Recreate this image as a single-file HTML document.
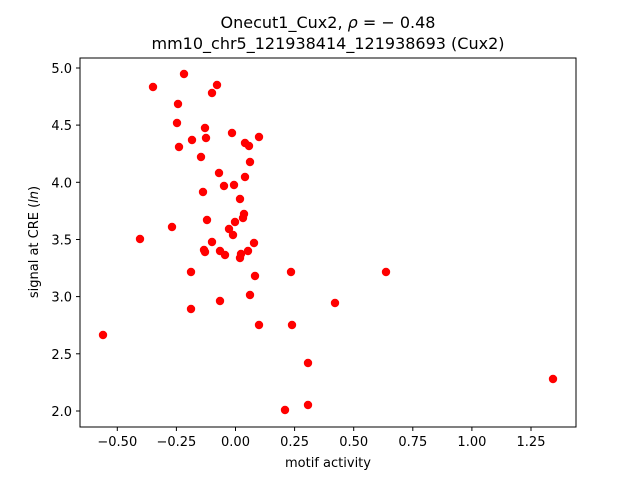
<!DOCTYPE html>
<html><head><meta charset="utf-8"><style>body{margin:0;background:#fff}</style></head><body>
<svg width="640" height="480" xmlns="http://www.w3.org/2000/svg" font-family="DejaVu Sans, Liberation Sans, sans-serif">
<rect width="640" height="480" fill="#fff"/>
<text x="328" y="28" font-size="16" text-anchor="middle">Onecut1_Cux2, <tspan font-style="italic">ρ</tspan> = − 0.48</text>
<text x="328" y="49" font-size="16" text-anchor="middle">mm10_chr5_121938414_121938693 (Cux2)</text>
<g fill="#ff0000">
<circle cx="103" cy="335" r="4.2"/><circle cx="140" cy="239" r="4.2"/><circle cx="153" cy="87" r="4.2"/><circle cx="184" cy="74" r="4.2"/>
<circle cx="172" cy="227" r="4.2"/><circle cx="177" cy="123" r="4.2"/><circle cx="178" cy="104" r="4.2"/><circle cx="179" cy="147" r="4.2"/>
<circle cx="191" cy="272" r="4.2"/><circle cx="191" cy="309" r="4.2"/><circle cx="192" cy="140" r="4.2"/><circle cx="201" cy="157" r="4.2"/>
<circle cx="203" cy="192" r="4.2"/><circle cx="204" cy="250" r="4.2"/><circle cx="205" cy="252" r="4.2"/><circle cx="205" cy="128" r="4.2"/>
<circle cx="206" cy="138" r="4.2"/><circle cx="207" cy="220" r="4.2"/><circle cx="212" cy="242" r="4.2"/><circle cx="212" cy="93" r="4.2"/>
<circle cx="217" cy="85" r="4.2"/><circle cx="219" cy="173" r="4.2"/><circle cx="220" cy="301" r="4.2"/><circle cx="220" cy="251" r="4.2"/>
<circle cx="224" cy="186" r="4.2"/><circle cx="225" cy="255" r="4.2"/><circle cx="229" cy="229" r="4.2"/><circle cx="232" cy="133" r="4.2"/>
<circle cx="233" cy="235" r="4.2"/><circle cx="234" cy="185" r="4.2"/><circle cx="235" cy="222" r="4.2"/><circle cx="240" cy="199" r="4.2"/>
<circle cx="240" cy="258" r="4.2"/><circle cx="241" cy="254" r="4.2"/><circle cx="243" cy="218" r="4.2"/><circle cx="244" cy="214" r="4.2"/>
<circle cx="245" cy="177" r="4.2"/><circle cx="245" cy="143" r="4.2"/><circle cx="248" cy="251" r="4.2"/><circle cx="249" cy="146" r="4.2"/>
<circle cx="250" cy="295" r="4.2"/><circle cx="250" cy="162" r="4.2"/><circle cx="254" cy="243" r="4.2"/><circle cx="255" cy="276" r="4.2"/>
<circle cx="259" cy="137" r="4.2"/><circle cx="259" cy="325" r="4.2"/><circle cx="291" cy="272" r="4.2"/><circle cx="292" cy="325" r="4.2"/>
<circle cx="285" cy="410" r="4.2"/><circle cx="308" cy="363" r="4.2"/><circle cx="308" cy="405" r="4.2"/><circle cx="335" cy="303" r="4.2"/>
<circle cx="386" cy="272" r="4.2"/><circle cx="553" cy="379" r="4.2"/>
</g>
<rect x="80" y="58" width="496" height="369" fill="none" stroke="#000" stroke-width="1"/>
<g stroke="#000" stroke-width="1">
<line x1="117.3" y1="427" x2="117.3" y2="431"/><line x1="176.4" y1="427" x2="176.4" y2="431"/><line x1="235.5" y1="427" x2="235.5" y2="431"/><line x1="294.6" y1="427" x2="294.6" y2="431"/>
<line x1="353.7" y1="427" x2="353.7" y2="431"/><line x1="412.8" y1="427" x2="412.8" y2="431"/><line x1="471.9" y1="427" x2="471.9" y2="431"/><line x1="531" y1="427" x2="531" y2="431"/>
<line x1="76" y1="411" x2="80" y2="411"/><line x1="76" y1="353.8" x2="80" y2="353.8"/><line x1="76" y1="296.6" x2="80" y2="296.6"/><line x1="76" y1="239.5" x2="80" y2="239.5"/>
<line x1="76" y1="182.3" x2="80" y2="182.3"/><line x1="76" y1="125.1" x2="80" y2="125.1"/><line x1="76" y1="68" x2="80" y2="68"/>
</g>
<g font-size="13" text-anchor="middle">
<text x="117.3" y="446">−0.50</text><text x="176.4" y="446">−0.25</text><text x="235.5" y="446">0.00</text><text x="294.6" y="446">0.25</text>
<text x="353.7" y="446">0.50</text><text x="412.8" y="446">0.75</text><text x="471.9" y="446">1.00</text><text x="531" y="446">1.25</text>
</g>
<g font-size="13" text-anchor="end">
<text x="72" y="416">2.0</text><text x="72" y="358.8">2.5</text><text x="72" y="301.6">3.0</text><text x="72" y="244.5">3.5</text>
<text x="72" y="187.3">4.0</text><text x="72" y="130.1">4.5</text><text x="72" y="73">5.0</text>
</g>
<text x="328" y="467" font-size="13" text-anchor="middle">motif activity</text>
<text transform="translate(38,242) rotate(-90)" font-size="13" text-anchor="middle">signal at CRE (<tspan font-style="italic">ln</tspan>)</text>
</svg>
</body></html>
